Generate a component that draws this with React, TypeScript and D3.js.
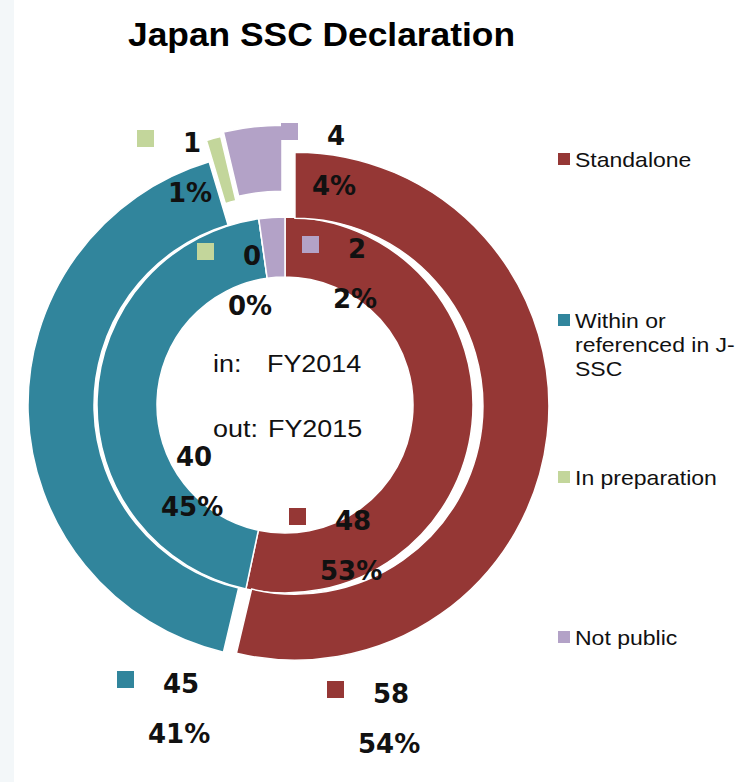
import React from 'react';
import * as d3 from 'd3';

const categories = ['Standalone', 'Within or referenced in J-SSC', 'In preparation', 'Not public'];
const legendLines = [['Standalone'], ['Within or', 'referenced in J-', 'SSC'], ['In preparation'], ['Not public']];
const colors = ['#953735', '#31859C', '#C3D69B', '#B3A2C7'];
const fy2014 = [48, 40, 0, 2];
const fy2015 = [58, 45, 1, 4];
const pct2014 = ['53%', '45%', '0%', '2%'];
const pct2015 = ['54%', '41%', '1%', '4%'];

const W = 754;
const H = 782;
const CX = 285;
const CY = 405;
const R_HOLE = 128;
const R_MID = 188;
const R_OUT = 254;
const explodeOuter = [10, 3, 22, 26];
// label block anchors (top-left of the legend key in each data label)
const innerLabelPos = [[289, 508], [130, 444], [197, 243], [302, 236]];
const outerLabelPos = [[327, 681], [117, 671], [137, 130], [281, 123]];
const legendBaselines = [167, 328, 485, 645];

const pie = d3.pie<number>().sort(null).value((d) => d).startAngle(0).endAngle(2 * Math.PI);

export default function App() {
  const innerArcs = pie(fy2014);
  const outerArcs = pie(fy2015);
  const innerArc = d3.arc<d3.PieArcDatum<number>>().innerRadius(R_HOLE).outerRadius(R_MID);
  const outerArc = d3.arc<d3.PieArcDatum<number>>().innerRadius(R_MID).outerRadius(R_OUT);

  const labelFont = "'DejaVu Sans', Verdana, sans-serif";
  const sansFont = "'Liberation Sans', Arial, sans-serif";

  const renderLabel = (pos: number[], value: number, pct: string, color: string, key: string) => (
    <g key={key}>
      <rect x={pos[0]} y={pos[1]} width={17} height={17} fill={color} />
      <text x={pos[0] + 46} y={pos[1] + 22} fontFamily={labelFont} fontWeight="bold" fontSize={26} fill="#111">
        {value}
      </text>
      <text x={pos[0] + 31} y={pos[1] + 72} fontFamily={labelFont} fontWeight="bold" fontSize={26} fill="#111">
        {pct}
      </text>
    </g>
  );

  return (
    <svg width={W} height={H} style={{ position: 'absolute', left: 0, top: 0 }}>
      <rect x={0} y={0} width={W} height={H} fill="#ffffff" />
      <rect x={0} y={0} width={14} height={H} fill="#f3f7f9" />

      <text
        x={128}
        y={46}
        fontFamily={sansFont}
        fontWeight="bold"
        fontSize={34}
        textLength={387}
        lengthAdjust="spacingAndGlyphs"
        fill="#000"
      >
        Japan SSC Declaration
      </text>

      <g transform={`translate(${CX},${CY})`}>
        {innerArcs.map((a, i) => (
          <path key={'in' + i} d={innerArc(a) || ''} fill={colors[i]} stroke="#fff" strokeWidth={1.5} />
        ))}
        {outerArcs.map((a, i) => {
          const mid = (a.startAngle + a.endAngle) / 2;
          const dx = explodeOuter[i] * Math.sin(mid);
          const dy = -explodeOuter[i] * Math.cos(mid);
          return (
            <path
              key={'out' + i}
              d={outerArc(a) || ''}
              transform={`translate(${dx},${dy})`}
              fill={colors[i]}
              stroke="#fff"
              strokeWidth={1.5}
            />
          );
        })}
      </g>

      <g fontFamily={sansFont} fontSize={23} fill="#111">
        <text transform={`translate(213,372) scale(1.17,1)`}>in:</text>
        <text transform={`translate(267,372) scale(1.17,1)`}>FY2014</text>
        <text transform={`translate(213,437) scale(1.17,1)`}>out:</text>
        <text transform={`translate(268,437) scale(1.17,1)`}>FY2015</text>
      </g>

      {fy2014.map((v, i) => renderLabel(innerLabelPos[i], v, pct2014[i], colors[i], 'li' + i))}
      {fy2015.map((v, i) => renderLabel(outerLabelPos[i], v, pct2015[i], colors[i], 'lo' + i))}

      <g>
        {categories.map((c, i) => (
          <g key={c}>
            <rect x={558} y={legendBaselines[i] - 14} width={12} height={12} fill={colors[i]} />
            {legendLines[i].map((line, j) => (
              <text
                key={j}
                transform={`translate(575,${legendBaselines[i] + j * 24}) scale(1.15,1)`}
                fontFamily={sansFont}
                fontSize={20}
                fill="#111"
              >
                {line}
              </text>
            ))}
          </g>
        ))}
      </g>
    </svg>
  );
}
